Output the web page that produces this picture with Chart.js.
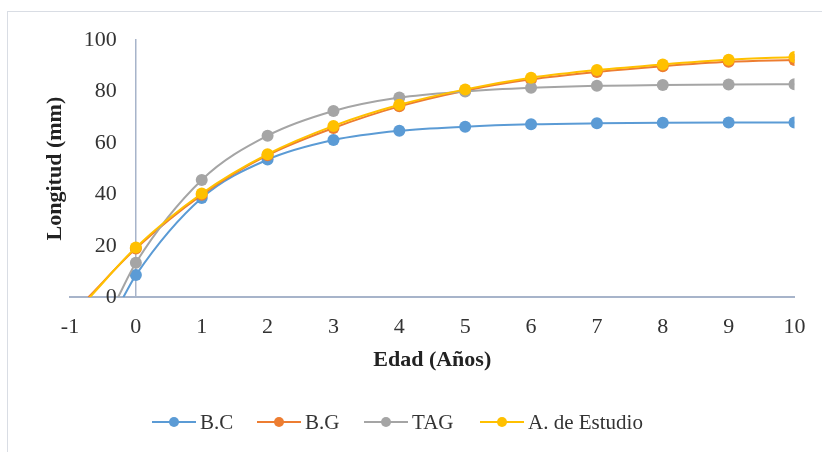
<!DOCTYPE html>
<html>
<head>
<meta charset="utf-8">
<script src="https://cdn.jsdelivr.net/npm/chart.js@4.4.1/dist/chart.umd.min.js"></script>
<style>
  html, body { margin: 0; padding: 0; background: #fff; }
  #wrap { position: relative; width: 822px; height: 452px; overflow: hidden; }
  #frame { position: absolute; left: 7px; top: 11px; width: 840px; height: 470px; border: 1px solid #d9dde4; }
  #chart { position: absolute; left: 0; top: 0; }
  .item { position: absolute; top: 409px; height: 26px; display: flex; align-items: center;
          font-family: 'Liberation Serif', 'Times New Roman', serif; font-size: 21px; color: #333; }
  .key { position: relative; width: 44px; height: 12px; margin-right: 4px; }
  .key .ln { position: absolute; left: 0; right: 0; top: 5px; height: 2px; }
  .key .dot { position: absolute; left: 17px; top: 1px; width: 10px; height: 10px; border-radius: 50%; }
</style>
</head>
<body>
<div id="wrap">
  <div id="frame"></div>
  <canvas id="chart" width="822" height="452"></canvas>
  <div id="legend"></div>
</div>
<script>
const edades = [0, 1, 2, 3, 4, 5, 6, 7, 8, 9, 10];
const series = ['B.C', 'B.G', 'TAG', 'A. de Estudio'];
const colores = ['#5B9BD5', '#ED7D31', '#A5A5A5', '#FFC000'];
// edad en la que cada curva corta longitud 0
const origen = [-0.19, -0.72, -0.27, -0.70];
const bc = [8.6, 38.6, 53.5, 61.1, 64.7, 66.3, 67.2, 67.6, 67.8, 67.9, 67.9];
const bg = [18.9, 39.8, 55.2, 65.8, 74.2, 80.3, 84.7, 87.6, 89.8, 91.5, 92.2];
const tag = [13.4, 45.6, 62.8, 72.4, 77.6, 80.0, 81.4, 82.2, 82.5, 82.7, 82.8];
const estudio = [19.3, 40.3, 55.6, 66.6, 74.8, 80.8, 85.3, 88.3, 90.5, 92.3, 93.4];
const legendX = [152, 257, 364, 480];

const valores = [bc, bg, tag, estudio];
const serif = "'Liberation Serif', 'Times New Roman', serif";
const axisColor = '#a7b4ca';

const datasets = series.map((name, i) => ({
  label: name,
  data: [{ x: origen[i], y: 0 }].concat(edades.map((e, j) => ({ x: e, y: valores[i][j] }))),
  borderColor: colores[i],
  backgroundColor: colores[i],
  borderWidth: 2,
  pointRadius: ctx => ctx.dataIndex === 0 ? 0 : 6,
  pointBorderWidth: 0,
  pointHoverRadius: 6,
  cubicInterpolationMode: 'monotone',
  order: series.length - i
}));

// vertical title, drawn bottom-to-top left of the y labels
const yTitle = {
  id: 'yTitle',
  afterDraw(chart) {
    const { ctx, chartArea } = chart;
    ctx.save();
    ctx.translate(55, (chartArea.top + chartArea.bottom) / 2);
    ctx.rotate(-Math.PI / 2);
    ctx.font = "bold 22px " + serif;
    ctx.fillStyle = '#222';
    ctx.textAlign = 'center';
    ctx.textBaseline = 'middle';
    ctx.fillText('Longitud (mm)', 0, 0);
    ctx.restore();
  }
};

new Chart(document.getElementById('chart'), {
  type: 'line',
  data: { datasets },
  options: {
    responsive: false,
    animation: false,
    layout: { padding: { left: 70, right: 27, top: 40, bottom: 78 } },
    plugins: { legend: { display: false }, tooltip: { enabled: false } },
    scales: {
      x: {
        type: 'linear',
        min: -1,
        max: 10,
        ticks: { stepSize: 1, color: '#333', padding: 16.5, font: { family: serif, size: 22 } },
        grid: { display: false, drawTicks: false },
        border: { color: axisColor, width: 2 },
        title: {
          display: true,
          text: 'Edad (Años)',
          color: '#222',
          font: { family: serif, size: 22, weight: 'bold' },
          padding: { top: -9, bottom: 0 }
        }
      },
      // labels sit a little left of the x = 0 axis line
      y: {
        position: { x: -0.29 },
        min: 0,
        max: 100,
        ticks: { stepSize: 20, color: '#333', font: { family: serif, size: 22 } },
        grid: { display: false, drawTicks: false },
        border: { display: false }
      },
      yLine: {
        position: { x: 0 },
        min: 0,
        max: 100,
        ticks: { display: false },
        grid: { display: false, drawTicks: false },
        border: { color: axisColor, width: 1.5 }
      }
    }
  },
  plugins: [yTitle]
});

// legend: line with marker, then label
const legend = document.getElementById('legend');
series.forEach((name, i) => {
  const item = document.createElement('div');
  item.className = 'item';
  item.style.left = legendX[i] + 'px';
  item.innerHTML = `<span class="key"><span class="ln" style="background:${colores[i]}"></span>` +
    `<span class="dot" style="background:${colores[i]}"></span></span><span>${name}</span>`;
  legend.appendChild(item);
});
</script>
</body>
</html>
